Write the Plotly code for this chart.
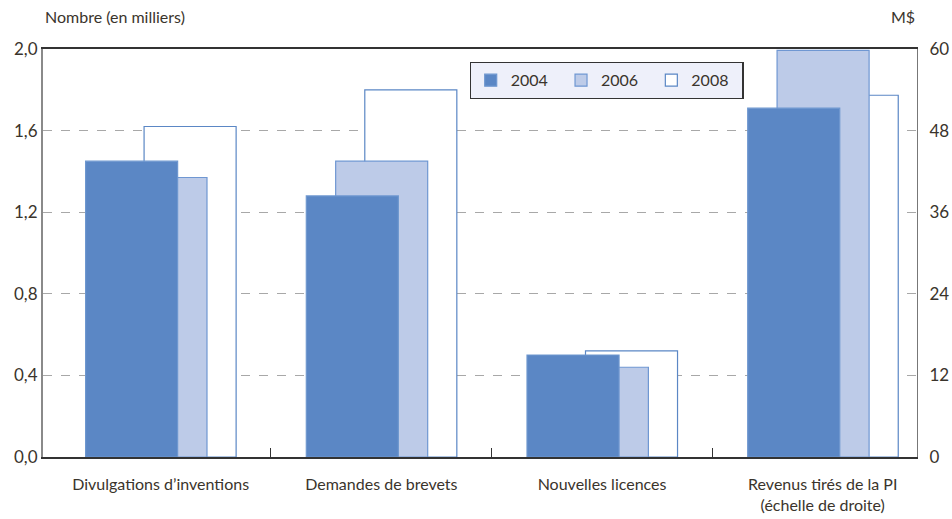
import plotly.graph_objects as go

categories = ["Divulgations d’inventions", "Demandes de brevets", "Nouvelles licences",
              "Revenus tirés de la PI<br>(échelle de droite)"]
years = ["2004", "2006", "2008"]
# first three categories: left axis (thousands); last: right axis (M$)
values_2004 = [1.45, 1.28, 0.50, 51.3]
values_2006 = [1.37, 1.45, 0.44, 59.8]
values_2008 = [1.62, 1.80, 0.52, 53.2]
left_ticks = [0, 0.4, 0.8, 1.2, 1.6, 2.0]
left_ticktext = ["0,0", "0,4", "0,8", "1,2", "1,6", "2,0"]
right_ticks = [0, 12, 24, 36, 48, 60]

series = {"2004": values_2004, "2006": values_2006, "2008": values_2008}
styles = {
    "2004": dict(fill="#5B87C5", line="#6E97CF", offset=-0.34),
    "2006": dict(fill="#BDCBE8", line="#6F97D2", offset=-0.207),
    "2008": dict(fill="#FFFFFF", line="#5B87C5", offset=-0.075),
}
width = 0.417
xpos = list(range(len(categories)))

fig = go.Figure()
for yr in ["2008", "2006", "2004"]:
    st = styles[yr]
    vals = series[yr]
    fig.add_trace(go.Bar(
        x=xpos[:3], y=vals[:3], name=yr + "\u00a0\u00a0", legendgroup=yr,
        marker=dict(color=st["fill"], line=dict(color=st["line"], width=1.2)),
        width=width, offset=st["offset"], yaxis="y", hoverinfo="skip",
    ))
    fig.add_trace(go.Bar(
        x=xpos[3:], y=vals[3:], name=yr, legendgroup=yr, showlegend=False,
        marker=dict(color=st["fill"], line=dict(color=st["line"], width=1.2)),
        width=width, offset=st["offset"], yaxis="y2", hoverinfo="skip",
    ))

font_family = "Lato, Roboto, sans-serif"
txt = "#3A342C"
fw = 400

fig.update_layout(
    width=952, height=519,
    margin=dict(l=43, r=35, t=49, b=62),
    barmode="overlay",
    paper_bgcolor="white", plot_bgcolor="white",
    font=dict(family=font_family, size=16, color=txt, weight=fw),
    showlegend=True,
    legend=dict(
        orientation="h", traceorder="reversed",
        x=0.488, y=0.968, xanchor="left", yanchor="top",
        bgcolor="#EEF0FA", bordercolor="#333333", borderwidth=1.2,
        font=dict(size=16, color=txt, weight=fw),
    ),
    xaxis=dict(
        range=[-0.533, 3.427], tickmode="array", tickvals=xpos, ticktext=categories,
        ticks="", showgrid=False, zeroline=False, automargin=False,
        showline=True, linecolor="#333333", linewidth=1.5, mirror=True,
        ticklabelstandoff=12,
        minor=dict(tickmode="array", tickvals=[0.5, 1.5, 2.5], ticks="inside",
                   ticklen=9, tickcolor="#333333", tickwidth=1, showgrid=False),
        tickfont=dict(size=16, color=txt, weight=fw),
    ),
    yaxis=dict(
        range=[0, 2.0], tickmode="array", tickvals=left_ticks, ticktext=left_ticktext,
        showgrid=True, gridcolor="#A8A8A8", griddash="dash", gridwidth=1,
        zeroline=False, showline=True, linecolor="#8A8A8A", linewidth=2,
        ticks="", automargin=False, tickfont=dict(size=17, color=txt, weight=fw),
    ),
    yaxis2=dict(
        range=[0, 60], overlaying="y", side="right", tickmode="array",
        tickvals=right_ticks, showgrid=False, zeroline=False, automargin=False,
        showline=True, linecolor="#777777", linewidth=1.2, ticks="",
        ticklabelstandoff=8, tickfont=dict(size=17, color=txt, weight=fw),
    ),
    annotations=[
        dict(text="Nombre (en milliers)", xref="paper", yref="paper",
             x=0.0, y=1.0, yshift=33, xanchor="left", yanchor="middle",
             showarrow=False, font=dict(size=16, color=txt, weight=fw)),
        dict(text="M$", xref="paper", yref="paper",
             x=1.0, y=1.0, yshift=33, xanchor="right", yanchor="middle",
             showarrow=False, font=dict(size=16, color=txt, weight=fw)),
    ],
)

fig.write_html("out.html", config={"displayModeBar": False},
               post_script="document.body.style.margin='0';")
